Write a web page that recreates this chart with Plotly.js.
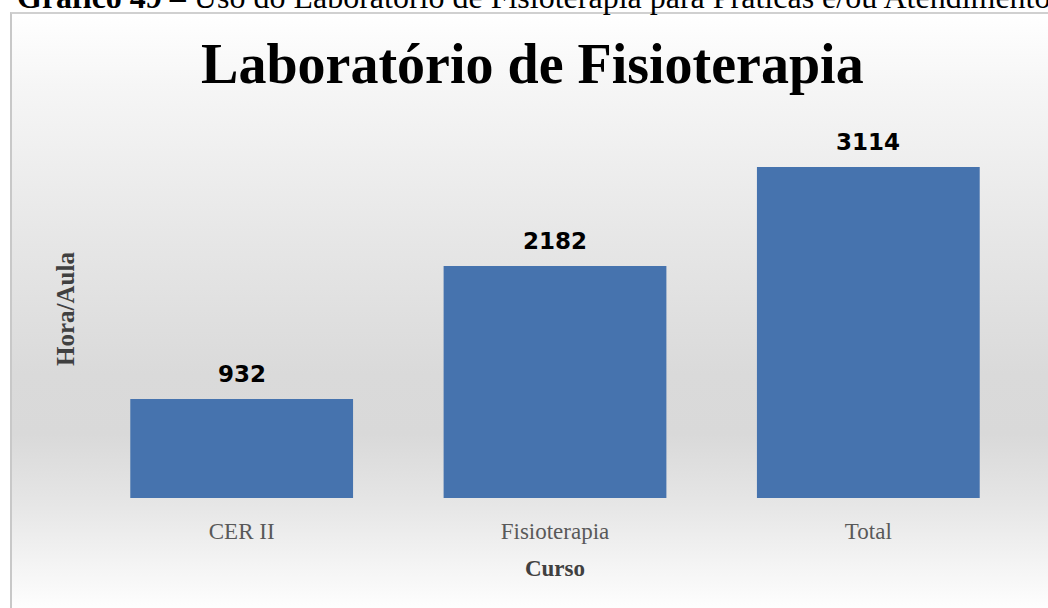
<!DOCTYPE html>
<html><head><meta charset="utf-8">
<script src="https://cdn.plot.ly/plotly-3.0.1.min.js"></script>
<style>
html,body{margin:0;padding:0;background:#fff;}
#frame{position:absolute;left:10px;top:12px;width:1040px;height:600px;border-left:2px solid #c8c8c8;border-top:2px solid #d0d0d0;
background:linear-gradient(to bottom,#ffffff 0px,#f6f6f6 70px,#e6e6e6 230px,#dadada 360px,#d9d9d9 420px,#e6e6e6 490px,#f6f6f6 560px,#ffffff 600px);}
#chart{position:absolute;left:0;top:0;width:1048px;height:608px;}
</style></head>
<body>
<div id="frame"></div>
<div id="chart"></div>
<script>
var categories = ['CER II', 'Fisioterapia', 'Total'];
var values = [932, 2182, 3114];
var labels = values.map(String);

var trace = {
  type: 'bar', x: categories, y: values,
  marker: {color: '#4673ae'},
  hoverinfo: 'none'
};
var ann = categories.map(function(c, i){
  return {x: c, y: values[i], xref: 'x', yref: 'y', text: '<b>' + labels[i] + '</b>',
    showarrow: false, yanchor: 'bottom', yshift: 10,
    font: {family: 'DejaVu Sans', size: 23, color: '#000'}};
});
ann.push({xref: 'paper', yref: 'paper', x: -0.074, y: 1.325, xanchor: 'left', yanchor: 'middle',
  text: '<b>Gráfico 49 –</b> Uso do Laboratório de Fisioterapia para Práticas e/ou Atendimentos',
  showarrow: false, font: {family: 'Liberation Serif', size: 32, color: '#000'}});

var layout = {
  width: 1048, height: 608,
  margin: {l: 85, r: 23, t: 120, b: 110},
  paper_bgcolor: 'rgba(0,0,0,0)', plot_bgcolor: 'rgba(0,0,0,0)',
  bargap: 0.289,
  showlegend: false,
  title: {text: '<b>Laboratório de Fisioterapia</b>', x: 0.508, xanchor: 'center', y: 0.895, yanchor: 'middle',
    font: {family: 'Liberation Serif', size: 56, color: '#000'}},
  xaxis: {type: 'category', showgrid: false, zeroline: false, showline: false, ticks: '',
    ticklabelstandoff: 17,
    tickfont: {family: 'Liberation Serif', size: 23, color: '#595959'},
    title: {text: '<b>Curso</b>', standoff: 16, font: {family: 'Liberation Serif', size: 23, color: '#404040'}}},
  yaxis: {range: [0, 3556], showgrid: false, zeroline: false, showline: false, showticklabels: false, ticks: '',
    title: {text: '<b>Hora/Aula</b>', standoff: 2, font: {family: 'Liberation Serif', size: 25, color: '#404040'}}},
  annotations: ann
};
Plotly.newPlot('chart', [trace], layout, {displayModeBar: false, staticPlot: true});
</script>
</body></html>
